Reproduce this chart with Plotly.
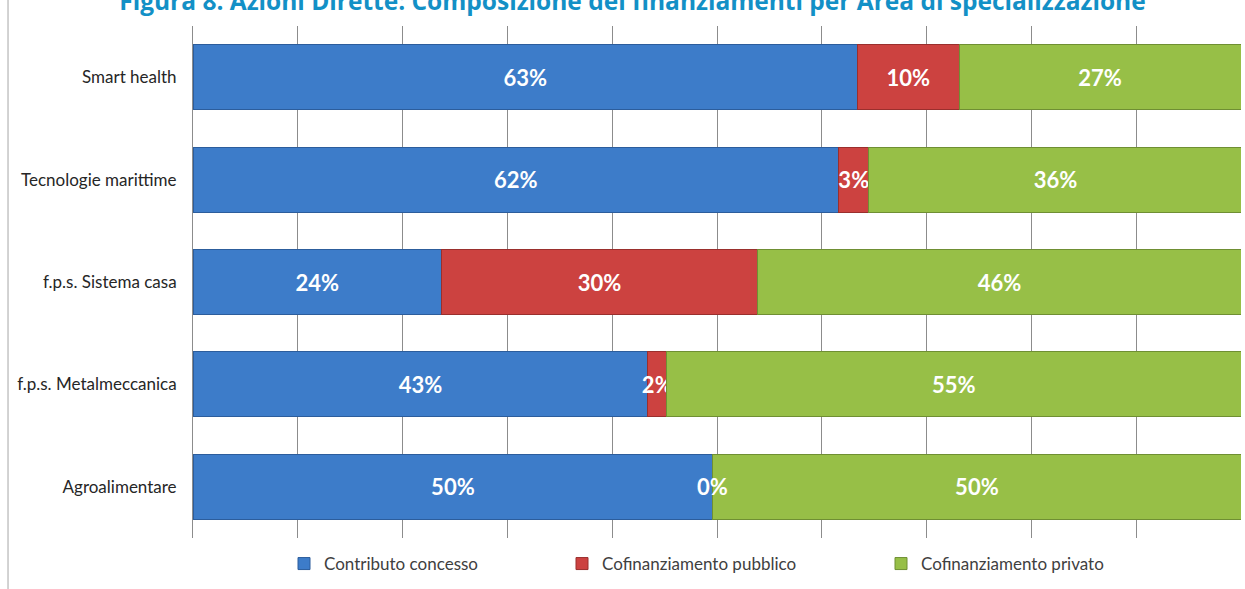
import plotly.graph_objects as go

# Aree di specializzazione (dal basso verso l'alto)
aree = [
    "Agroalimentare",
    "f.p.s. Metalmeccanica",
    "f.p.s. Sistema casa",
    "Tecnologie marittime",
    "Smart health",
]

# Quote percentuali
contributo_concesso = [49.6, 43.4, 23.7, 61.6, 63.4]
cofinanziamento_pubblico = [0.0, 1.8, 30.2, 2.9, 9.7]
cofinanziamento_privato = [50.4, 54.8, 46.1, 35.6, 26.9]

serie = [
    ("Contributo concesso", contributo_concesso, "#3d7cc9", "#2c5d9c", "legend"),
    ("Cofinanziamento pubblico", cofinanziamento_pubblico, "#cc4240", "#9a2f2d", "legend2"),
    ("Cofinanziamento privato", cofinanziamento_privato, "#97bf47", "#6f8f33", "legend3"),
]

fig = go.Figure()
for nome, valori, colore, bordo, leg in serie:
    fig.add_trace(
        go.Bar(
            name=nome,
            y=aree,
            x=valori,
            orientation="h",
            legend=leg,
            showlegend=True,
            marker=dict(color=colore, line=dict(color=bordo, width=1)),
            texttemplate="%{x:.0f}%",
            textposition="inside",
            insidetextanchor="middle",
            textangle=0,
            constraintext="none",
            textfont=dict(family="Lato", size=22, color="white", weight="bold"),
        )
    )

# etichette per i segmenti di ampiezza nulla (es. 0% Agroalimentare)
annotazioni = []
for i, area in enumerate(aree):
    if cofinanziamento_pubblico[i] < 0.5:
        annotazioni.append(
            dict(
                x=contributo_concesso[i] + cofinanziamento_pubblico[i] / 2,
                y=area,
                text=f"{cofinanziamento_pubblico[i]:.0f}%",
                showarrow=False,
                font=dict(family="Lato", size=22, color="white", weight="bold"),
            )
        )


def legenda(x_px):
    return dict(
        orientation="h",
        xref="container",
        yref="container",
        x=x_px / 1245,
        xanchor="left",
        y=(589 - 564) / 589,
        yanchor="middle",
        font=dict(family="Lato", size=17, color="#404040"),
        bgcolor="rgba(0,0,0,0)",
    )


fig.update_layout(
    barmode="stack",
    bargap=0.365,
    width=1245,
    height=589,
    showlegend=True,
    margin=dict(l=193, r=4, t=26, b=51, autoexpand=False),
    paper_bgcolor="white",
    plot_bgcolor="white",
    uniformtext=dict(minsize=22, mode="show"),
    title=dict(
        text="<b>Figura 8. Azioni Dirette: Composizione dei finanziamenti per Area di specializzazione</b>",
        font=dict(family="Open Sans", size=24.5, color="#1390c6"),
        x=0.508,
        xanchor="center",
        yref="paper",
        y=1,
        yanchor="bottom",
        pad=dict(b=16),
    ),
    legend=legenda(284),
    legend2=legenda(562),
    legend3=legenda(881),
    annotations=annotazioni,
    shapes=[
        dict(
            type="line",
            xref="paper",
            yref="paper",
            x0=-0.1765,
            x1=-0.1765,
            y0=-0.1,
            y1=1.06,
            line=dict(color="#a6a6a6", width=1),
        )
    ],
)

fig.update_xaxes(
    range=[0, 100],
    dtick=10,
    showticklabels=False,
    showgrid=True,
    gridcolor="#8c8c8c",
    gridwidth=1,
    zeroline=False,
    fixedrange=True,
)
fig.update_yaxes(
    showline=True,
    linecolor="#8c8c8c",
    ticks="",
    automargin=False,
    ticklabelstandoff=12,
    tickfont=dict(family="Lato", size=17, color="#262626"),
    fixedrange=True,
)

fig.write_html(
    "out.html",
    config={"displayModeBar": False},
    post_script="document.body.style.margin='0';document.body.style.overflow='hidden';",
)
